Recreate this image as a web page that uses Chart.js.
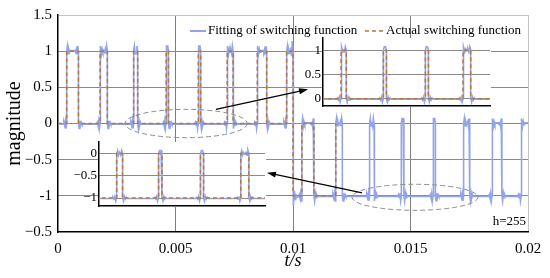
<!DOCTYPE html>
<html lang="en">
<head>
<meta charset="UTF-8">
<title>Fitting of switching function, h=255</title>
<script src="https://cdn.jsdelivr.net/npm/chart.js"></script>
<style>
  html, body { margin: 0; padding: 0; background: #fff; }
  #wrap { position: relative; width: 550px; height: 278px; }
  #wrap > div { position: absolute; }
</style>
</head>
<body>
<div id="wrap">
  <div style="left:0;top:0;width:550px;height:278px"><canvas id="mainChart"></canvas></div>
  <div style="left:296px;top:26px;width:196px;height:92px"><canvas id="inset1"></canvas></div>
  <div style="left:69px;top:130px;width:198px;height:88px"><canvas id="inset2"></canvas></div>
</div>

<script>
  // pulse edges (s)
  const pulseOn  = [0.00037, 0.00179, 0.00322, 0.00460, 0.00597, 0.00720, 0.00848, 0.00973,
                    0.01038, 0.01182, 0.01326, 0.01461, 0.01596, 0.01726, 0.01847, 0.01971];
  const pulseOff = [0.00087, 0.00210, 0.00339, 0.00470, 0.00607, 0.00745, 0.00888, 0.01000,
                    0.01089, 0.01210, 0.01345, 0.01472, 0.01606, 0.01752, 0.01889, 0.02020];
  const pulseLow  = [0, 0, 0, 0, 0, 0, 0, 0, -1, -1, -1, -1, -1, -1, -1, -1];
  const pulseHigh = [1, 1, 1, 1, 1, 1, 1, 1, 0, 0, 0, 0, 0, 0, 0, 0];
  // ringing of the fitted curve beside each edge (share of step height)
  const ripple = [0.07, -0.035, 0.025, -0.015, 0.01];
  const rippleStep = 0.00003;
  // dashed curve is only visible up to here in the main plot
  const actualShownUntil = 0.01182;

  const xTickLabels = ['0', '0.005', '0.01', '0.015', '0.02'];
  const yTickLabels = ['\u22120.5', '-1', '\u22120.5', '0', '0.5', '1', '1.5'];
  const inset1Ticks = [0, 0.5, 1];
  const inset1Labels = ['0', '0.5', '1'];
  const inset2Ticks = [-1, -0.5, 0];
  const inset2Labels = ['\u22121', '\u22120.5', '0'];

  const fitColor = '#93a5ea';
  const actColor = '#b8783a';

  Chart.defaults.font.family = "'Liberation Serif', 'Times New Roman', serif";
  Chart.defaults.color = '#000';

  function buildSeries(withRipple) {
    const pts = [{ x: 0, y: pulseLow[0] }];
    const n = pulseOn.length;
    for (let i = 0; i < n; i++) {
      const on = pulseOn[i], off = pulseOff[i];
      const lo = pulseLow[i], hi = pulseHigh[i];
      const next = i + 1 < n ? pulseLow[i + 1] : lo;
      const prevOff = i > 0 ? pulseOff[i - 1] : 0;
      const nextOn = i + 1 < n ? pulseOn[i + 1] : Infinity;
      const mid = (on + off) / 2;
      const rise = hi - lo, fall = hi - next;
      if (withRipple) {
        for (let k = ripple.length - 1; k >= 0; k--) {
          const t = on - (k + 1) * rippleStep;
          if (t > (prevOff + on) / 2) pts.push({ x: t, y: lo - ripple[k] * rise });
        }
      }
      pts.push({ x: on, y: lo }, { x: on, y: hi });
      if (withRipple) {
        for (let k = 0; k < ripple.length; k++) {
          const t = on + (k + 1) * rippleStep;
          if (t < mid) pts.push({ x: t, y: hi + ripple[k] * rise });
        }
        for (let k = ripple.length - 1; k >= 0; k--) {
          const t = off - (k + 1) * rippleStep;
          if (t > mid) pts.push({ x: t, y: hi + ripple[k] * fall });
        }
      }
      pts.push({ x: off, y: hi }, { x: off, y: next });
      if (withRipple) {
        for (let k = 0; k < ripple.length; k++) {
          const t = off + (k + 1) * rippleStep;
          if (t < (off + nextOn) / 2) pts.push({ x: t, y: next - ripple[k] * fall });
        }
      }
    }
    return pts;
  }

  const fitted = buildSeries(true);
  const actual = buildSeries(false);
  const actualMain = actual.filter(p => p.x <= actualShownUntil);

  function datasets(actualPts) {
    return [
      { label: 'Actual switching function', data: actualPts, borderColor: actColor,
        borderWidth: 1.5, borderDash: [4, 3], pointRadius: 0, tension: 0 },
      { label: 'Fitting of switching function', data: fitted, borderColor: fitColor,
        borderWidth: 1.6, pointRadius: 0, tension: 0 }
    ];
  }

  // dashed ellipses and arrows, in data units of the main plot
  const zoomRings = [
    { t: 0.00545, v: 0, dt: 0.0026, dv: 0.196 },
    { t: 0.01519, v: -1.02, dt: 0.00268, dv: 0.18 }
  ];
  const zoomArrows = [
    { from: [0.00672, 0.196], to: [0.01064, 0.473] },
    { from: [0.01294, -0.96], to: [0.00889, -0.68] }
  ];

  const overlay = {
    id: 'overlay',
    afterDraw(chart) {
      const { ctx, scales: { x, y }, chartArea } = chart;
      ctx.save();
      ctx.strokeStyle = '#8c8c8c';
      ctx.lineWidth = 1;
      ctx.setLineDash([5, 3]);
      zoomRings.forEach(r => {
        const cx = x.getPixelForValue(r.t), cy = y.getPixelForValue(r.v);
        const rx = x.getPixelForValue(r.t + r.dt) - cx;
        const ry = cy - y.getPixelForValue(r.v + r.dv);
        ctx.beginPath();
        ctx.ellipse(cx, cy, rx, ry, 0, 0, Math.PI * 2);
        ctx.stroke();
      });
      ctx.setLineDash([]);
      ctx.strokeStyle = '#000';
      ctx.fillStyle = '#000';
      ctx.lineWidth = 1.2;
      zoomArrows.forEach(a => {
        const x0 = x.getPixelForValue(a.from[0]), y0 = y.getPixelForValue(a.from[1]);
        const x1 = x.getPixelForValue(a.to[0]), y1 = y.getPixelForValue(a.to[1]);
        const ang = Math.atan2(y1 - y0, x1 - x0);
        ctx.beginPath();
        ctx.moveTo(x0, y0);
        ctx.lineTo(x1 - 6 * Math.cos(ang), y1 - 6 * Math.sin(ang));
        ctx.stroke();
        ctx.beginPath();
        ctx.moveTo(x1, y1);
        ctx.lineTo(x1 - 9 * Math.cos(ang) + 3 * Math.sin(ang), y1 - 9 * Math.sin(ang) - 3 * Math.cos(ang));
        ctx.lineTo(x1 - 9 * Math.cos(ang) - 3 * Math.sin(ang), y1 - 9 * Math.sin(ang) + 3 * Math.cos(ang));
        ctx.closePath();
        ctx.fill();
      });

      // legend
      const ly = chartArea.top + 16;
      ctx.font = "13px 'Liberation Serif', serif";
      ctx.textBaseline = 'middle';
      ctx.textAlign = 'left';
      ctx.strokeStyle = fitColor;
      ctx.lineWidth = 2;
      ctx.beginPath(); ctx.moveTo(190, ly); ctx.lineTo(206, ly); ctx.stroke();
      ctx.fillText('Fitting of switching function', 208, ly);
      ctx.strokeStyle = actColor;
      ctx.lineWidth = 1.6;
      ctx.setLineDash([4, 3]);
      ctx.beginPath(); ctx.moveTo(365, ly); ctx.lineTo(384, ly); ctx.stroke();
      ctx.setLineDash([]);
      ctx.fillText('Actual switching function', 386, ly);

      // harmonic order
      ctx.textAlign = 'right';
      ctx.fillText('h=255', chartArea.right - 2, chartArea.bottom - 10);

      // y title
      ctx.translate(20, (chartArea.top + chartArea.bottom) / 2);
      ctx.rotate(-Math.PI / 2);
      ctx.textAlign = 'center';
      ctx.textBaseline = 'alphabetic';
      ctx.font = "20px 'Liberation Serif', serif";
      ctx.fillText('magnitude', 0, 0);
      ctx.restore();
    }
  };

  const whiteArea = {
    id: 'whiteArea',
    beforeDraw(chart) {
      const { ctx, chartArea: a } = chart;
      ctx.save();
      ctx.fillStyle = '#fff';
      ctx.fillRect(a.left, a.top, a.right - a.left + 1, a.bottom - a.top + 1);
      ctx.restore();
    }
  };

  new Chart(document.getElementById('mainChart'), {
    type: 'line',
    data: { datasets: datasets(actualMain) },
    options: {
      responsive: true,
      maintainAspectRatio: false,
      animation: false,
      layout: { padding: { left: 0, right: 22, top: 10, bottom: 0 } },
      plugins: { legend: { display: false }, tooltip: { enabled: false } },
      scales: {
        x: {
          type: 'linear', min: 0, max: 0.02,
          afterFit: s => { s.height = 46; },
          ticks: { stepSize: 0.005, padding: 8, font: { size: 15 }, callback: (v, i) => xTickLabels[i] },
          grid: {
            drawTicks: false,
            color: c => c.tick.value === 0 ? 'rgba(0,0,0,0)' : (c.tick.value >= 0.02 ? '#c4c4c4' : '#7d7d7d')
          },
          border: { color: '#000', width: 1.5 },
          title: { display: true, text: 't/s', font: { size: 18, style: 'italic' }, padding: { top: 0, bottom: 6 } }
        },
        y: {
          min: -1.5, max: 1.5,
          afterFit: s => { s.width = 58; },
          ticks: { stepSize: 0.5, padding: 6, font: { size: 15 }, callback: (v, i) => yTickLabels[i] },
          grid: {
            drawTicks: false,
            color: c => c.tick.value <= -1.5 ? 'rgba(0,0,0,0)' : (c.tick.value >= 1.5 ? '#c4c4c4' : '#8a8a8a')
          },
          border: { color: '#000', width: 1.5 }
        }
      }
    },
    plugins: [overlay]
  });

  function insetChart(id, xmin, xmax, ymin, ymax, ticks, labels, axisW) {
    return new Chart(document.getElementById(id), {
      type: 'line',
      data: { datasets: datasets(actual) },
      options: {
        responsive: true,
        maintainAspectRatio: false,
        animation: false,
        layout: { padding: { left: 0, right: 2, top: 12, bottom: 12 } },
        plugins: { legend: { display: false }, tooltip: { enabled: false } },
        scales: {
          x: {
            type: 'linear', min: xmin, max: xmax,
            afterFit: s => { s.height = 0; },
            ticks: { display: false },
            grid: { display: false },
            border: { color: '#000', width: 1.5 }
          },
          y: {
            min: ymin, max: ymax,
            afterFit: s => { s.width = axisW; },
            afterBuildTicks: s => { s.ticks = ticks.map(v => ({ value: v })); },
            ticks: { padding: 2, font: { size: 13 }, callback: (v, i) => labels[i] },
            grid: { drawTicks: false, color: '#8a8a8a' },
            border: { color: '#000', width: 1.5 }
          }
        }
      },
      plugins: [whiteArea]
    });
  }

  insetChart('inset1', 0.00263, 0.00808, -0.15, 1.25, inset1Ticks, inset1Labels, 27);
  insetChart('inset2', 0.01269, 0.01804, -1.18, 0.26, inset2Ticks, inset2Labels, 30);
</script>
</body>
</html>
